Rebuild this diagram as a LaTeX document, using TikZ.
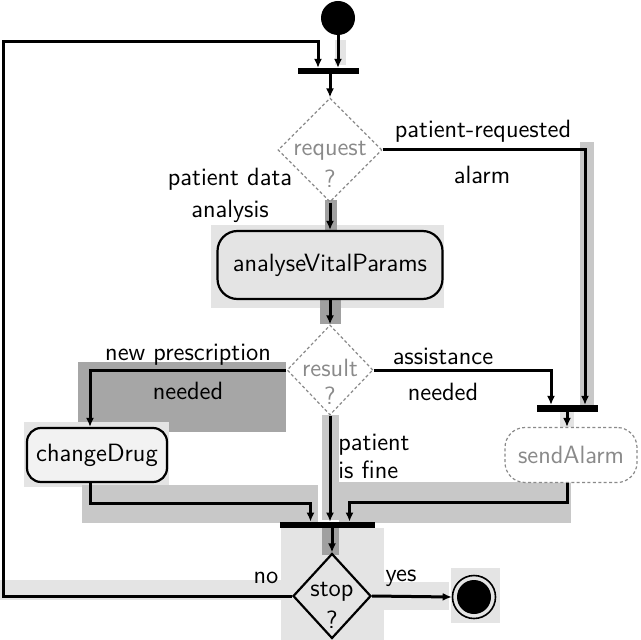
\documentclass[tikz,border=0pt]{standalone}
\usetikzlibrary{shapes.geometric,arrows.meta}
\definecolor{bgA}{HTML}{E4E4E4}
\definecolor{bgB}{HTML}{C8C8C8}
\definecolor{bgC}{HTML}{A6A6A6}
\definecolor{bgD}{HTML}{A0A0A0}
\definecolor{dgray}{HTML}{8A8A8A}
\begin{document}
\begin{tikzpicture}[x=0.5pt,y=-0.5pt,
  every node/.style={font=\sffamily\fontsize{12.5}{15}\selectfont},
  lab/.style={inner sep=0pt},
  conn/.style={line width=1.5pt,-{Latex[length=4.5pt,width=4pt]}},
  bar/.style={fill=black,inner sep=0pt,minimum height=3pt},
  decision/.style={diamond,draw=dgray,dashed,dash pattern=on 1.5pt off 1.2pt,line width=0.6pt,inner sep=0pt},
  dtext/.style={inner sep=0pt,align=center,text=dgray},
  action/.style={rectangle,draw=black,line width=1.1pt,rounded corners=10pt,fill=bgA,inner sep=0pt}
]
\useasboundingbox (0,0) rectangle (640,640);
% background patches
\fill[bgA] (211,225) rectangle (444,308);
\fill[bgD] (320,297) rectangle (341,324);
\fill[bgD] (325,200) rectangle (337,232);
\fill[bgA] (335,40) rectangle (346,65);
\fill[bgB] (580,142) rectangle (594,405);
\fill[bgC] (78,362) rectangle (286,432);
\fill[bgA] (24,422) rectangle (169,487);
\fill[bgB] (322,415) rectangle (339,520);
\fill[bgB] (82,485) rectangle (318,523);
\fill[bgB] (339,482) rectangle (571,523);
\fill[bgA] (281,528) rectangle (384,640);
\fill[bgD] (322,528) rectangle (339,555);
\fill[bgA] (0,580) rectangle (290,600);
\fill[bgA] (384,582) rectangle (449,610);
\fill[bgA] (451,568) rectangle (500,623);
\fill[bgA] (560,412) rectangle (574,427);
% nodes
\node[circle,fill=black,minimum size=17pt,inner sep=0pt] (start) at (338,18) {};
\node[bar,minimum width=30.5pt,minimum height=2.7pt] (bar1) at (328.5,71) {};
\node[decision,minimum width=52pt,minimum height=52pt] (req) at (330,150) {};
\node[dtext,font=\sffamily\fontsize{12.5}{16}\selectfont] (reqt) at (330,164) {request\\?};
\node[action,minimum width=112.5pt,minimum height=34pt] (ana) at (330,265) {analyseVitalParams};
\node[decision,minimum width=43pt,minimum height=45pt] (res) at (330,370) {};
\node[dtext,font=\sffamily\fontsize{12.5}{14}\selectfont] (rest) at (330,382) {result\\?};
\node[bar,minimum width=30.5pt,minimum height=3.2pt] (bar2) at (567,408.5) {};
\node[action,dashed,dash pattern=on 1.5pt off 1.2pt,draw=dgray,line width=0.6pt,fill=white,text=dgray,minimum width=66pt,minimum height=27.5pt] (send) at (571,455) {sendAlarm};
\node[action,rounded corners=7pt,fill=bgA!50!white,minimum width=70pt,minimum height=27pt] (chg) at (97,455) {changeDrug};
\node[bar,minimum width=47.5pt,minimum height=3pt] (bar3) at (327.5,525) {};
\node[diamond,draw=black,line width=1.1pt,inner sep=0pt,minimum width=39pt,minimum height=42.5pt] (stop) at (332,596) {};
\node[inner sep=0pt,align=center,font=\sffamily\fontsize{12.5}{16}\selectfont] (stopt) at (332,605) {stop\\?};
\node[circle,draw=black,line width=0.8pt,minimum size=21.5pt,inner sep=0pt] (end) at (474,597) {};
\node[circle,fill=black,minimum size=17pt,inner sep=0pt] (endin) at (end) {};
% labels
\node[lab] (l1) at (483,131) {patient-requested};
\node[lab] (l2) at (482,175) {alarm};
\node[lab,align=center,font=\sffamily\fontsize{12.5}{16}\selectfont] (l3) at (230,195) {patient data\\analysis};
\node[lab] (l4) at (188,355) {new prescription};
\node[lab] (l5) at (188,391) {needed};
\node[lab] (l6) at (443,356) {assistance};
\node[lab] (l7) at (443,392) {needed};
\node[lab,anchor=west,align=left,font=\sffamily\fontsize{12.5}{14}\selectfont] (l8) at (338,456) {patient\\is fine};
\node[lab] (l9) at (266,578) {no};
\node[lab] (l10) at (401,578) {yes};
% connectors
\coordinate (lpb) at (3,596);
\coordinate (lpt) at (3,42);
\coordinate (lpx) at (318,42);
\draw[conn] (start) -- (start |- bar1.north);
\draw[conn] (stop.west) -- (lpb) -- (lpt) -- (lpx) -- (lpx |- bar1.north);
\draw[conn] (req.north |- bar1.south) -- (req.north);
\draw[conn] (req.east) -| ([xshift=9pt]bar2.north);
\draw[conn] (req.south) -- (ana.north);
\draw[conn] (ana.south) -- (res.north);
\draw[conn] (res.west) -| ([xshift=-3.5pt]chg.north);
\draw[conn] (res.east) -| ([xshift=-8pt]bar2.north);
\draw[conn] (bar2.south) -- (bar2.south |- send.north);
\draw[conn] (res.south) -- (res.south |- bar3.north);
\draw[conn] ([xshift=-3.5pt]chg.south) -- ++(0,20) -| ([xshift=-8.5pt]bar3.north);
\draw[conn] ([xshift=-2pt]send.south) -- ++(0,19) -| ([xshift=11pt]bar3.north);
\draw[conn] (bar3.south -| stop.north) -- (stop.north);
\draw[conn] (stop.east) -- (end.west);
\end{tikzpicture}
\end{document}
